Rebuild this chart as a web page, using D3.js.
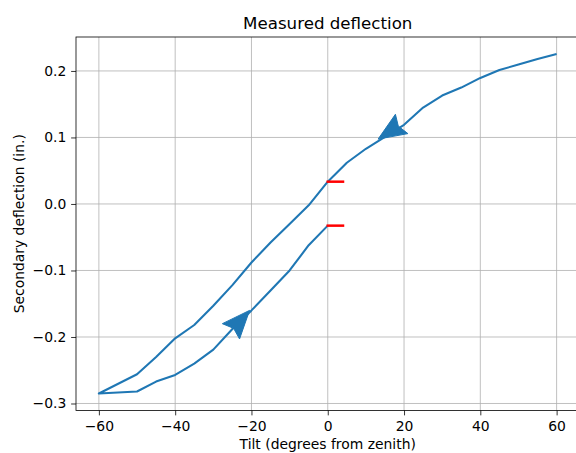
<!DOCTYPE html>
<html>
<head>
<meta charset="utf-8">
<script src="https://cdn.jsdelivr.net/npm/d3@7"></script>
<style>
  body { margin: 0; background: #fff; }
  svg { display: block; font-family: "DejaVu Sans", sans-serif; }
</style>
</head>
<body>
<svg id="chart" width="576" height="453"></svg>
<script>
// one sweep: 60 -> 0 -> -60, then back up to 0
const tilt = [60, 55, 50, 45, 40, 35, 30, 25, 20, 15, 10, 5, 0,
  -5, -10, -15, -20, -25, -30, -35, -40, -45, -50, -60,
  -50, -45, -40, -35, -30, -25, -20, -15, -10, -5, 0];
const deflection = [0.2255, 0.218, 0.2095, 0.2015, 0.1895, 0.175, 0.163, 0.145, 0.119, 0.101, 0.083, 0.062, 0.0335,
  -0.002, -0.030, -0.058, -0.088, -0.122, -0.153, -0.182, -0.202, -0.230, -0.256, -0.285,
  -0.282, -0.267, -0.257, -0.240, -0.219, -0.188, -0.160, -0.130, -0.100, -0.062, -0.0326];

// red markers at the two zero-tilt readings
const markTilt = [0, 4];
const markLevels = [0.0335, -0.0326];

// direction arrows (tail -> tip, data units)
const arrowTails = [[19.7, 0.1215], [-25.3, -0.191]];
const arrowTips = [[13.2, 0.0975], [-20.5, -0.160]];

const xTicks = [-60, -40, -20, 0, 20, 40, 60];
const yTicks = [0.2, 0.1, 0.0, -0.1, -0.2, -0.3];

const plotLeft = 76, plotRight = 579.5, plotTop = 37, plotBottom = 410.5;
const fontSize = 13.9;

const svg = d3.select("#chart");

// matplotlib style 5% padding
function padded(ext) {
  const m = (ext[1] - ext[0]) * 0.05;
  return [ext[0] - m, ext[1] + m];
}

const x = d3.scaleLinear().domain(padded(d3.extent(tilt))).range([plotLeft, plotRight]);
const y = d3.scaleLinear().domain(padded(d3.extent(deflection))).range([plotBottom, plotTop]);

// grid
svg.append("g").selectAll("line")
  .data(xTicks)
  .join("line")
  .attr("x1", d => x(d)).attr("x2", d => x(d))
  .attr("y1", plotTop).attr("y2", plotBottom)
  .attr("stroke", "#b0b0b0").attr("stroke-width", 0.8);

svg.append("g").selectAll("line")
  .data(yTicks)
  .join("line")
  .attr("x1", plotLeft).attr("x2", plotRight)
  .attr("y1", d => y(d)).attr("y2", d => y(d))
  .attr("stroke", "#b0b0b0").attr("stroke-width", 0.8);

// data line
const points = tilt.map((t, i) => [t, deflection[i]]);
const line = d3.line().x(d => x(d[0])).y(d => y(d[1]));

svg.append("path")
  .datum(points)
  .attr("d", line)
  .attr("fill", "none")
  .attr("stroke", "#1f77b4")
  .attr("stroke-width", 2.08)
  .attr("stroke-linejoin", "round");

// arrow heads
const headLen = 28, headHalf = 11.5, notch = 4;
svg.append("g").selectAll("path")
  .data(arrowTips.map((tip, i) => [arrowTails[i], tip]))
  .join("path")
  .attr("d", d => {
    const tx = x(d[1][0]), ty = y(d[1][1]);
    const dx = tx - x(d[0][0]), dy = ty - y(d[0][1]);
    const len = Math.hypot(dx, dy);
    const ux = dx / len, uy = dy / len;
    const bx = tx - ux * headLen, by = ty - uy * headLen;
    const nx = tx - ux * (headLen - notch), ny = ty - uy * (headLen - notch);
    return `M${tx},${ty} L${bx - uy * headHalf},${by + ux * headHalf} L${nx},${ny} L${bx + uy * headHalf},${by - ux * headHalf} Z`;
  })
  .attr("fill", "#1f77b4")
  .attr("stroke", "#1f77b4")
  .attr("stroke-width", 1)
  .attr("stroke-linejoin", "round");

// red markers
svg.append("g").selectAll("line")
  .data(markLevels)
  .join("line")
  .attr("x1", x(markTilt[0])).attr("x2", x(markTilt[1]))
  .attr("y1", d => y(d)).attr("y2", d => y(d))
  .attr("stroke", "#ff0000")
  .attr("stroke-width", 2.5)
  .attr("stroke-linecap", "square");

// axes
const xAxis = svg.append("g")
  .attr("transform", `translate(0,${plotBottom})`)
  .call(d3.axisBottom(x).tickValues(xTicks).tickFormat(d3.format("d")).tickSize(4.86).tickPadding(6));

const yAxis = svg.append("g")
  .attr("transform", `translate(${plotLeft},0)`)
  .call(d3.axisLeft(y).tickValues(yTicks).tickFormat(d3.format(".1f")).tickSize(4.86).tickPadding(4.86));

[xAxis, yAxis].forEach(a => {
  a.select(".domain").remove();
  a.attr("font-family", null).attr("font-size", null);
  a.selectAll("line").attr("stroke", "#000").attr("stroke-width", 0.8);
  a.selectAll("text").attr("fill", "#000").style("font-size", fontSize + "px");
});

// frame
svg.append("rect")
  .attr("x", plotLeft).attr("y", plotTop)
  .attr("width", plotRight - plotLeft).attr("height", plotBottom - plotTop)
  .attr("fill", "none")
  .attr("stroke", "#000")
  .attr("stroke-width", 0.8);

// labels
svg.append("text")
  .attr("x", (plotLeft + plotRight) / 2).attr("y", 28.5)
  .attr("text-anchor", "middle")
  .style("font-size", "16.67px")
  .text("Measured deflection");

svg.append("text")
  .attr("x", (plotLeft + plotRight) / 2).attr("y", 449)
  .attr("text-anchor", "middle")
  .style("font-size", fontSize + "px")
  .text("Tilt (degrees from zenith)");

svg.append("text")
  .attr("transform", `translate(23.5,${(plotTop + plotBottom) / 2}) rotate(-90)`)
  .attr("text-anchor", "middle")
  .style("font-size", fontSize + "px")
  .text("Secondary deflection (in.)");
</script>
</body>
</html>
